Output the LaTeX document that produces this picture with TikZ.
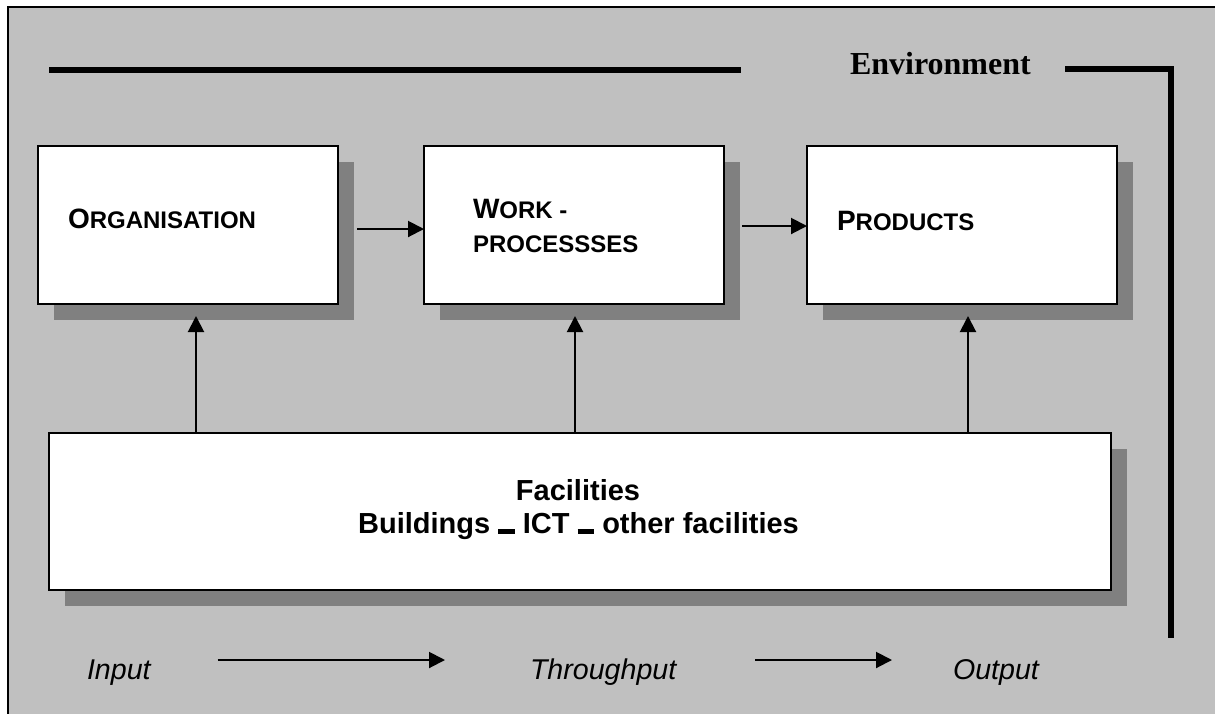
\documentclass[tikz,border=0pt]{standalone}
\usepackage{fontspec}
\setmainfont{Liberation Sans}
\newfontfamily\serifbf{Liberation Serif}
\usetikzlibrary{arrows.meta,shadows}
\definecolor{bggray}{HTML}{C0C0C0}
\definecolor{shgray}{HTML}{808080}
\newcommand{\capsm}[2]{{\fontsize{14pt}{17pt}\selectfont #1}{\fontsize{12pt}{14pt}\selectfont #2}}
\newcommand{\dashbar}{\rule{0.57em}{0.15em}}
\begin{document}
\begin{tikzpicture}[x=0.5pt,y=-0.5pt,
  box/.style={draw=black,line width=0.75pt,fill=white,inner sep=0pt,outer sep=0pt,
    minimum height=79pt,
    drop shadow={shadow xshift=8pt,shadow yshift=-8pt,fill=shgray,opacity=1}},
  lbl/.style={inner sep=0pt,outer sep=0pt,anchor=base west,font=\bfseries},
  arr/.style={line width=1pt,-{Triangle[length=8pt,width=8pt]}},
  envline/.style={line width=3pt},
  io/.style={inner sep=0pt,outer sep=0pt,anchor=base west,font=\fontsize{14.3pt}{17pt}\selectfont\itshape}]
\useasboundingbox (0,0) rectangle (1215,713);
\begin{scope}
  \clip (0,0) rectangle (1215,713);
  \fill[bggray] (8,7) rectangle (1230,730);
  \draw[line width=1pt] (8,730) -- (8,7) -- (1230,7);
\end{scope}
% environment
\draw[envline] (49,70) -- (741,70);
\node[inner sep=0pt,outer sep=0pt,anchor=base west] (env) at (850,74)
  {\serifbf\bfseries\fontsize{16pt}{19pt}\selectfont Environment};
\draw[envline,line width=2.85pt] (1065,69) -- (1171,69) -- (1171,637.5);
% boxes
\node[box,minimum width=150pt] (org) at (188,225) {};
\node[box,minimum width=150pt] (work) at (574,225) {};
\node[box,minimum width=155pt] (prod) at (962,225) {};
\node[box,minimum width=531pt,minimum height=78.5pt] (fac) at (580,511.5) {};
% box texts
\node[lbl] (orgT) at (68,228) {\capsm{O}{RGANISATION}};
\node[lbl] (workT) at (473,218) {\capsm{W}{ORK -}};
\node[lbl] (workT2) at (473,252) {\capsm{}{PROCESSSES}};
\node[lbl] (prodT) at (837,230) {\capsm{P}{RODUCTS}};
\node[lbl,anchor=base] (facT) at (578,500) {\fontsize{14.5pt}{17pt}\selectfont Facilities};
\node[lbl,anchor=base] (facT2) at (578.5,533.5)
  {\fontsize{14.5pt}{17pt}\selectfont Buildings \dashbar{} ICT \dashbar{} other facilities};
% arrows between boxes
\draw[arr,shorten <=9.5pt] ([yshift=-2pt]org.east) -- ([yshift=-2pt]work.west);
\draw[arr,shorten <=9pt] ([yshift=-0.5pt]work.east) -- ([yshift=-0.5pt]prod.west);
\coordinate (c1) at (196,0);
\coordinate (c2) at (575,0);
\coordinate (c3) at (968,0);
\draw[arr,shorten >=6pt] (fac.north -| c1) -- (org.south -| c1);
\draw[arr,shorten >=6pt] (fac.north -| c2) -- (work.south -| c2);
\draw[arr,shorten >=6pt] (fac.north -| c3) -- (prod.south -| c3);
% input / throughput / output
\node[io] (inp) at (87,679) {Input};
\node[io] (thr) at (530,679) {Throughput};
\node[io] (out) at (953,679) {Output};
\coordinate (ay) at (0,660);
\draw[arr,shorten <=33.5pt,shorten >=42.5pt] (inp.east |- ay) -- (thr.west |- ay);
\draw[arr,shorten <=39.5pt,shorten >=30.5pt] (thr.east |- ay) -- (out.west |- ay);
\end{tikzpicture}
\end{document}
